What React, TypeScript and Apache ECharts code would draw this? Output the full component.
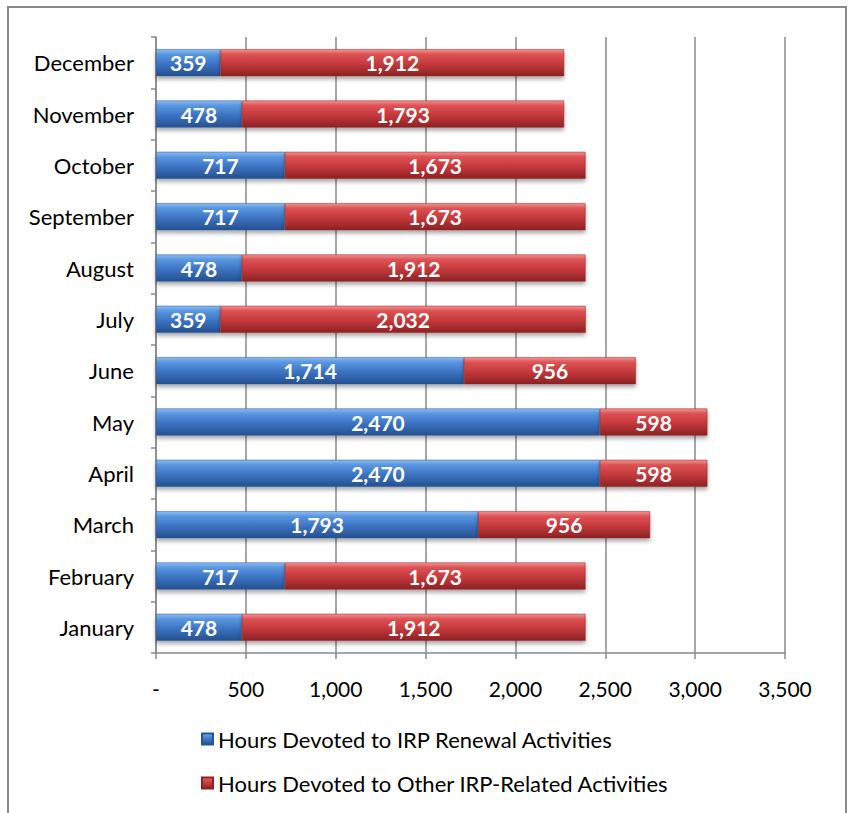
import React, { useEffect, useRef } from "react";
import * as echarts from "echarts";

const months = ["January", "February", "March", "April", "May", "June", "July", "August", "September", "October", "November", "December"];
const renewal = [478, 717, 1793, 2470, 2470, 1714, 359, 478, 717, 717, 478, 359];
const other = [1912, 1673, 956, 598, 598, 956, 2032, 1912, 1673, 1673, 1793, 1912];
const seriesNames = ["Hours Devoted to IRP Renewal Activities", "Hours Devoted to Other IRP-Related Activities"];

const FONT = "Lato";

const fmt = (v: number) => (v === 0 ? "-" : v.toLocaleString("en-US"));

const blueGrad = new echarts.graphic.LinearGradient(0, 0, 0, 1, [
  { offset: 0, color: "#8cbcf2" },
  { offset: 0.18, color: "#5a97e0" },
  { offset: 0.55, color: "#3b73c2" },
  { offset: 1, color: "#25508f" },
]);
const redGrad = new echarts.graphic.LinearGradient(0, 0, 0, 1, [
  { offset: 0, color: "#f39393" },
  { offset: 0.18, color: "#de5253" },
  { offset: 0.55, color: "#c4393b" },
  { offset: 1, color: "#8c2224" },
]);

export default function App() {
  const ref = useRef<HTMLDivElement>(null);
  useEffect(() => {
    const chart = echarts.init(ref.current!, null, { renderer: "svg" });
    const labelCfg = {
      show: true,
      position: "inside",
      color: "#ffffff",
      fontWeight: "bold",
      fontFamily: FONT,
      fontSize: 21,
      formatter: (p: any) => fmt(p.value),
    };
    chart.setOption({
      animation: false,
      backgroundColor: "#ffffff",
      textStyle: { fontFamily: FONT },
      graphic: [
        {
          type: "rect",
          shape: { x: 8, y: 7, width: 838, height: 820 },
          style: { fill: "none", stroke: "#8a8a8a", lineWidth: 2 },
          silent: true,
        },
      ],
      grid: { left: 156, right: 63, top: 37, bottom: 160, containLabel: false },
      xAxis: {
        type: "value",
        min: 0,
        max: 3500,
        interval: 500,
        axisLine: { show: true, lineStyle: { color: "#8a8a8a", width: 1.5 } },
        axisTick: { show: true, length: 6, lineStyle: { color: "#8a8a8a", width: 1.5 } },
        splitLine: { show: true, lineStyle: { color: "#8a8a8a", width: 1.5 } },
        axisLabel: { formatter: fmt, color: "#000", fontSize: 21, fontFamily: FONT, margin: 25 },
      },
      yAxis: {
        type: "category",
        data: months,
        axisLine: { show: true, lineStyle: { color: "#8a8a8a", width: 1.5 } },
        axisTick: { show: true, length: 5, lineStyle: { color: "#8a8a8a", width: 1.5 } },
        axisLabel: { color: "#000", fontSize: 22, fontFamily: FONT, margin: 22 },
      },
      legend: {
        orient: "vertical",
        left: 196,
        top: 723,
        itemWidth: 11,
        itemHeight: 11,
        itemGap: 22,
        icon: "rect",
        textStyle: { color: "#000", fontSize: 22, fontFamily: FONT },
        data: seriesNames,
      },
      series: [
        {
          name: seriesNames[0],
          type: "bar",
          stack: "total",
          barWidth: 27,
          data: renewal,
          itemStyle: {
            color: blueGrad,
            borderColor: "#2a5595",
            borderWidth: 0.5,
            shadowColor: "rgba(0,0,0,0.35)",
            shadowBlur: 4,
            shadowOffsetY: 3,
          },
          label: labelCfg,
        },
        {
          name: seriesNames[1],
          type: "bar",
          stack: "total",
          barWidth: 27,
          data: other,
          itemStyle: {
            color: redGrad,
            borderColor: "#8c2224",
            borderWidth: 0.5,
            shadowColor: "rgba(0,0,0,0.35)",
            shadowBlur: 4,
            shadowOffsetY: 3,
          },
          label: labelCfg,
        },
      ],
    });
    return () => chart.dispose();
  }, []);
  return (
    <div
      ref={ref}
      style={{ position: "fixed", left: 0, top: 0, width: 848, height: 813 }}
    />
  );
}
